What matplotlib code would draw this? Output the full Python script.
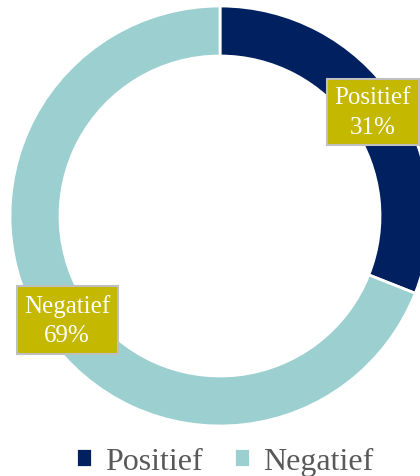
import matplotlib.pyplot as plt
import numpy as np

labels = ['Positief', 'Negatief']
values = [31, 69]
colors = ['#002060', '#9BCFD0']

plt.rcParams['font.family'] = ['Liberation Serif', 'DejaVu Serif']

fig = plt.figure(figsize=(4.2, 4.77), dpi=100)
ax = fig.add_axes([0, 0, 1, 1])

R = 210
cx, cy = 220, 477 - 217
wedges, _ = ax.pie(values, colors=colors, startangle=90, counterclock=False,
                   radius=R, center=(cx, cy), frame=True,
                   wedgeprops=dict(width=50, edgecolor='white', linewidth=2))
ax.set_xlim(0, 420)
ax.set_ylim(0, 477)
ax.set_aspect('equal')
ax.axis('off')

for w, lab, v in zip(wedges, labels, values):
    ang = np.deg2rad((w.theta1 + w.theta2) / 2)
    x = cx + 0.88 * R * np.cos(ang)
    y = cy + 0.88 * R * np.sin(ang)
    ax.text(x, y, f'{lab}\n{v}%', ha='center', va='center', color='white',
            fontsize=18, linespacing=1.45,
            bbox=dict(boxstyle='square,pad=0.3', facecolor='#C4B800',
                      edgecolor='#BFBFBF', linewidth=1.5))

ax.legend(wedges, labels, loc='lower center', bbox_to_anchor=(0.535, -0.06),
          ncol=2, frameon=False, fontsize=23, handlelength=0.5, handleheight=0.5,
          handletextpad=0.4, columnspacing=1.0, labelcolor='#595959')

fig.savefig('out.png', dpi=100)
